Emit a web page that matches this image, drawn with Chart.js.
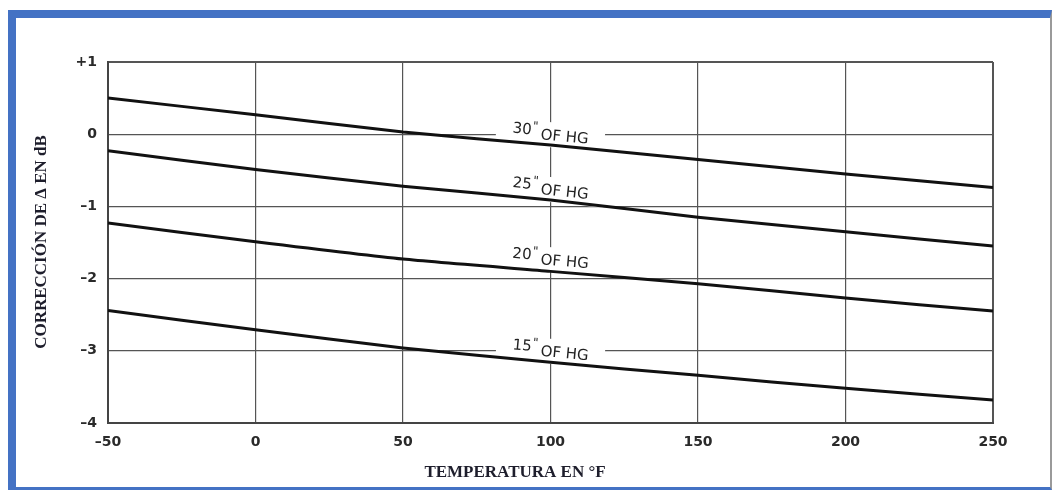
<!DOCTYPE html>
<html>
<head>
<meta charset="utf-8">
<script src="https://cdn.jsdelivr.net/npm/chart.js@4"></script>
<style>
  html, body { margin: 0; padding: 0; background: #fff; }
  #caja { position: relative; width: 1053px; height: 490px; overflow: hidden; }
  #grafico { position: absolute; left: 0; top: 0; }
  /* marco azul del recorte */
  #marco {
    position: absolute; left: 8px; top: 10px; width: 1044px; height: 480px;
    border-top: 8px solid #4472C4; border-left: 8px solid #4472C4;
    border-bottom: 3px solid #4472C4; border-right: 2px solid #9a9a9a;
    box-sizing: border-box; pointer-events: none;
  }
</style>
</head>
<body>
<div id="caja">
  <canvas id="grafico" width="1053" height="490"></canvas>
  <div id="marco"></div>
</div>
<script>
// temperaturas (°F) y corrección en dB para cada presión
const temperaturas = [-50, 0, 50, 100, 150, 200, 250];
const hg30 = [0.50, 0.27, 0.03, -0.15, -0.35, -0.55, -0.74];
const hg25 = [-0.23, -0.49, -0.72, -0.91, -1.15, -1.35, -1.55];
const hg20 = [-1.23, -1.49, -1.73, -1.90, -2.07, -2.27, -2.45];
const hg15 = [-2.44, -2.71, -2.96, -3.16, -3.34, -3.52, -3.68];

const xTicks = [-50, 0, 50, 100, 150, 200, 250];
const xTickLabels = ['–50', '0', '50', '100', '150', '200', '250'];
const yTicks = [1, 0, -1, -2, -3, -4];
const yTickLabels = ['+1', '0', '–1', '–2', '–3', '–4'];

const nombres = ['30', '25', '20', '15'];
const series = [hg30, hg25, hg20, hg15];

// donde va cada rótulo (en valores de los ejes)
const rotuloX = [100, 100, 100, 100];
const rotuloY = [0.0, -0.76, -1.73, -3.0];

const tinta = '#111';

const rotulos = {
  id: 'rotulos',
  beforeDatasetsDraw(chart) {
    const ctx = chart.ctx;
    const sx = chart.scales.x, sy = chart.scales.y;
    nombres.forEach((n, i) => {
      const px = sx.getPixelForValue(rotuloX[i]);
      const py = sy.getPixelForValue(rotuloY[i]);
      // inclinación igual a la de la curva
      const d = series[i];
      const ang = Math.atan2(sy.getPixelForValue(d[4]) - sy.getPixelForValue(d[2]),
                             sx.getPixelForValue(temperaturas[4]) - sx.getPixelForValue(temperaturas[2]));
      ctx.save();
      ctx.translate(px, py);
      ctx.rotate(ang);
      ctx.font = '15px "DejaVu Sans"';
      const wNum = ctx.measureText(n).width;
      ctx.font = '12px "DejaVu Sans"';
      const wQ = ctx.measureText('"').width + 4;
      ctx.font = '15px "DejaVu Sans"';
      const wTxt = ctx.measureText('OF HG').width;
      const total = wNum + wQ + wTxt;
      ctx.fillStyle = '#fff';
      ctx.fillRect(-total / 2 - 16, -12, total + 32, 25);
      ctx.fillStyle = '#222';
      ctx.textBaseline = 'middle';
      let x0 = -total / 2;
      ctx.font = '15px "DejaVu Sans"';
      ctx.fillText(n, x0, -2);
      x0 += wNum + 1;
      ctx.font = '12px "DejaVu Sans"';
      ctx.fillText('"', x0, -6);
      x0 += wQ - 1;
      ctx.font = '15px "DejaVu Sans"';
      ctx.fillText('OF HG', x0, 2);
      ctx.restore();
    });
  },
  afterDraw(chart) {
    const ctx = chart.ctx;
    ctx.save();
    ctx.fillStyle = '#1e1e2c';
    ctx.textAlign = 'center';
    ctx.textBaseline = 'middle';
    ctx.font = 'bold 17px "Liberation Serif"';
    ctx.fillText('TEMPERATURA EN °F', 515, 473);
    ctx.translate(42, 242);
    ctx.rotate(-Math.PI / 2);
    ctx.font = 'bold 17px "Liberation Serif"';
    ctx.fillText('CORRECCIÓN DE Δ EN dB', 0, 0);
    ctx.restore();
  }
};

const anchoLinea = c => (c.index === 0 || c.index === c.chart.scales[c.scale.id].ticks.length - 1) ? 2 : 1.2;

new Chart(document.getElementById('grafico').getContext('2d'), {
  type: 'line',
  data: {
    datasets: series.map((d, i) => ({
      label: nombres[i] + '" OF HG',
      data: temperaturas.map((t, k) => ({ x: t, y: d[k] })),
      borderColor: tinta,
      borderWidth: 3,
      pointRadius: 0,
      tension: 0.2,
      fill: false
    }))
  },
  options: {
    responsive: false,
    animation: false,
    layout: { padding: { left: 0, top: 62, right: 60, bottom: 0 } },
    plugins: { legend: { display: false }, tooltip: { enabled: false } },
    scales: {
      x: {
        type: 'linear',
        min: -50,
        max: 250,
        afterBuildTicks: s => { s.ticks = xTicks.map(v => ({ value: v })); },
        afterFit: s => { s.height = 67; },
        ticks: {
          callback: v => xTickLabels[xTicks.indexOf(v)],
          color: '#2a2a2a',
          font: { family: 'DejaVu Sans', size: 14, weight: 'bold' },
          padding: 11,
          maxRotation: 0
        },
        grid: { drawTicks: false, color: '#555', lineWidth: anchoLinea },
        border: { display: true, color: '#444', width: 2 }
      },
      y: {
        min: -4,
        max: 1,
        afterBuildTicks: s => { s.ticks = yTicks.map(v => ({ value: v })); },
        afterFit: s => { s.width = 108; },
        ticks: {
          callback: v => yTickLabels[yTicks.indexOf(v)],
          color: '#2a2a2a',
          font: { family: 'DejaVu Sans', size: 14, weight: 'bold' },
          padding: 11
        },
        grid: { drawTicks: false, color: '#555', lineWidth: anchoLinea },
        border: { display: true, color: '#444', width: 2 }
      }
    }
  },
  plugins: [rotulos]
});
</script>
</body>
</html>
